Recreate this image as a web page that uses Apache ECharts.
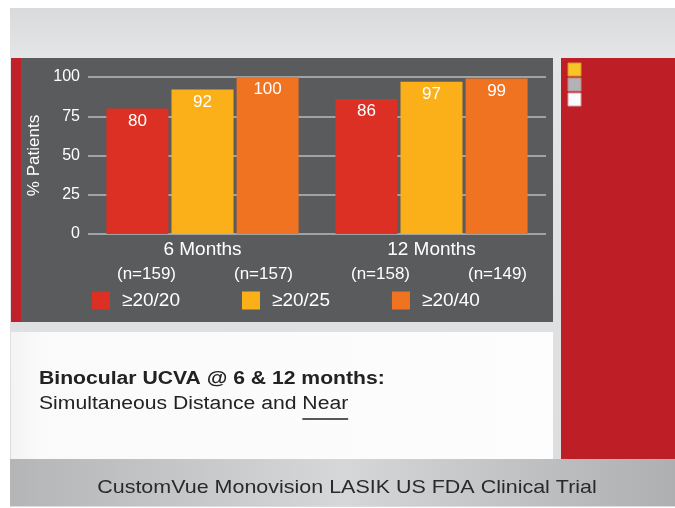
<!DOCTYPE html>
<html>
<head>
<meta charset="utf-8">
<style>
  html, body { margin: 0; padding: 0; background: #ffffff; }
  #chart { width: 675px; height: 508px; }
</style>
<script src="https://cdn.jsdelivr.net/npm/echarts@6/dist/echarts.min.js"></script>
</head>
<body>
<div id="chart"></div>
<script>
// Follow-up time points and patient counts per bar pair
const categories = ['6 Months', '12 Months'];
const sampleSizes = ['(n=159)', '(n=157)', '(n=158)', '(n=149)'];

// Percentage of patients reaching each binocular UCVA threshold
const seriesNames = ['≥20/20', '≥20/25', '≥20/40'];
const va2020 = [80, 86];
const va2025 = [92, 97];
const va2040 = [100, 99];

const yTicks = { min: 0, max: 100, interval: 25 };

const FONT = 'Liberation Sans, Arial, Helvetica, sans-serif';
const colors = ['#dc3024', '#fbb01a', '#f07322'];

const chart = echarts.init(document.getElementById('chart'), null, { renderer: 'canvas' });

// caption text is set slightly wide
const captionStretch = 1.175;
const ctx = document.createElement('canvas').getContext('2d');
ctx.font = '18px ' + FONT;
const subtitle = 'Simultaneous Distance and Near';
const subX = 39;
const nearStart = subX + captionStretch * ctx.measureText('Simultaneous Distance and ').width;
const nearWidth = captionStretch * ctx.measureText('Near').width;

const barLabel = {
  show: true,
  position: 'insideTop',
  distance: 4,
  color: '#ffffff',
  fontSize: 17,
  fontFamily: FONT
};

function makeBar(name, data, color) {
  return {
    name: name,
    type: 'bar',
    xAxisIndex: 0,
    yAxisIndex: 0,
    data: data,
    barWidth: 62,
    barGap: '5%',
    itemStyle: { color: color },
    label: barLabel,
    z: 3
  };
}

const option = {
  animation: false,
  backgroundColor: 'transparent',
  textStyle: { fontFamily: FONT },
  graphic: [
    // slide background
    {
      type: 'rect', z: -10, silent: true,
      shape: { x: 10, y: 8, width: 665, height: 499 },
      style: {
        fill: new echarts.graphic.LinearGradient(0, 0, 0, 1, [
          { offset: 0, color: '#d9dadc' },
          { offset: 0.1, color: '#e4e5e6' },
          { offset: 1, color: '#dcdddf' }
        ])
      }
    },
    // dark chart panel
    {
      type: 'rect', z: -9, silent: true,
      shape: { x: 11, y: 58, width: 542, height: 264 },
      style: { fill: '#5a5b5d' }
    },
    // red accent strip on the left of the chart panel
    {
      type: 'rect', z: -8, silent: true,
      shape: { x: 11, y: 58, width: 10, height: 264 },
      style: { fill: '#c0202a' }
    },
    // white caption panel
    {
      type: 'rect', z: -9, silent: true,
      shape: { x: 11, y: 332, width: 542, height: 127 },
      style: {
        fill: new echarts.graphic.LinearGradient(0, 0, 1, 0, [
          { offset: 0, color: '#f3f3f3' },
          { offset: 0.05, color: '#fafafa' },
          { offset: 1, color: '#fdfdfd' }
        ])
      }
    },
    // red side panel
    {
      type: 'rect', z: -9, silent: true,
      shape: { x: 561, y: 58, width: 114, height: 401 },
      style: { fill: '#be1f26' }
    },
    // small swatches on the side panel
    {
      type: 'rect', z: -8, silent: true,
      shape: { x: 568, y: 63, width: 13, height: 13 },
      style: { fill: '#f9c526', stroke: '#d9952a', lineWidth: 1 }
    },
    {
      type: 'rect', z: -8, silent: true,
      shape: { x: 568, y: 78, width: 13, height: 13 },
      style: { fill: '#b1b3b6', stroke: '#c4868a', lineWidth: 1 }
    },
    {
      type: 'rect', z: -8, silent: true,
      shape: { x: 568, y: 93, width: 13, height: 13 },
      style: { fill: '#fbfbfb', stroke: '#d7a0a3', lineWidth: 1 }
    },
    // footer band
    {
      type: 'rect', z: -9, silent: true,
      shape: { x: 10, y: 459, width: 665, height: 47 },
      style: {
        fill: new echarts.graphic.LinearGradient(0, 0, 1, 0, [
          { offset: 0, color: '#b4b5b7' },
          { offset: 0.5, color: '#d6d7d8' },
          { offset: 1, color: '#aeafb1' }
        ])
      }
    },
    // caption text
    {
      type: 'text', z: 5,
      x: 39, y: 379, scaleX: captionStretch,
      style: {
        x: 0, y: 0, text: 'Binocular UCVA @ 6 & 12 months:',
        fill: '#222222', font: 'bold 18px ' + FONT,
        verticalAlign: 'middle', align: 'left'
      }
    },
    {
      type: 'text', z: 5,
      x: subX, y: 404, scaleX: captionStretch,
      style: {
        x: 0, y: 0, text: subtitle,
        fill: '#222222', font: '18px ' + FONT,
        verticalAlign: 'middle', align: 'left'
      }
    },
    {
      type: 'line', z: 5, silent: true,
      shape: { x1: nearStart, y1: 419, x2: nearStart + nearWidth, y2: 419 },
      style: { stroke: '#222222', lineWidth: 1.5 }
    },
    // footer text
    {
      type: 'text', z: 5,
      x: 347, y: 488, scaleX: 1.13,
      style: {
        x: 0, y: 0, text: 'CustomVue Monovision LASIK US FDA Clinical Trial',
        fill: '#2a2a2a', font: '19px ' + FONT,
        verticalAlign: 'middle', align: 'center'
      }
    }
  ],
  legend: {
    data: seriesNames,
    left: 92,
    top: 291,
    padding: 0,
    itemWidth: 18,
    itemHeight: 18,
    itemGap: 62,
    icon: 'rect',
    selectedMode: false,
    textStyle: {
      color: '#ffffff',
      fontSize: 19,
      fontFamily: FONT,
      padding: [0, 0, 0, 7]
    }
  },
  grid: [
    { left: 88, right: 129, top: 77, bottom: 274, containLabel: false },
    { left: 88, right: 119, top: 77, bottom: 274, containLabel: false }
  ],
  xAxis: [
    {
      type: 'category',
      gridIndex: 0,
      data: categories,
      axisLine: { show: false },
      axisTick: { show: false },
      axisLabel: {
        color: '#ffffff',
        fontSize: 19,
        lineHeight: 22,
        margin: 5,
        fontFamily: FONT
      }
    },
    {
      type: 'category',
      gridIndex: 1,
      data: sampleSizes,
      axisLine: { show: false },
      axisTick: { show: false },
      axisLabel: {
        color: '#ffffff',
        fontSize: 17,
        lineHeight: 20,
        margin: 30,
        fontFamily: FONT
      }
    }
  ],
  yAxis: [
    {
      type: 'value',
      gridIndex: 0,
      min: yTicks.min,
      max: yTicks.max,
      interval: yTicks.interval,
      name: '% Patients',
      nameLocation: 'middle',
      nameRotate: 90,
      nameGap: 39.5,
      nameTextStyle: { color: '#ffffff', fontSize: 17, fontFamily: FONT },
      axisLine: { show: false },
      axisTick: { show: false },
      axisLabel: { color: '#ffffff', fontSize: 16, margin: 8, fontFamily: FONT },
      splitLine: { show: true, lineStyle: { color: '#b9babb', width: 1.5 } }
    },
    {
      type: 'value',
      gridIndex: 1,
      min: yTicks.min,
      max: yTicks.max,
      show: false
    }
  ],
  series: [
    makeBar(seriesNames[0], va2020, colors[0]),
    makeBar(seriesNames[1], va2025, colors[1]),
    makeBar(seriesNames[2], va2040, colors[2])
  ]
};

chart.setOption(option);
</script>
</body>
</html>
